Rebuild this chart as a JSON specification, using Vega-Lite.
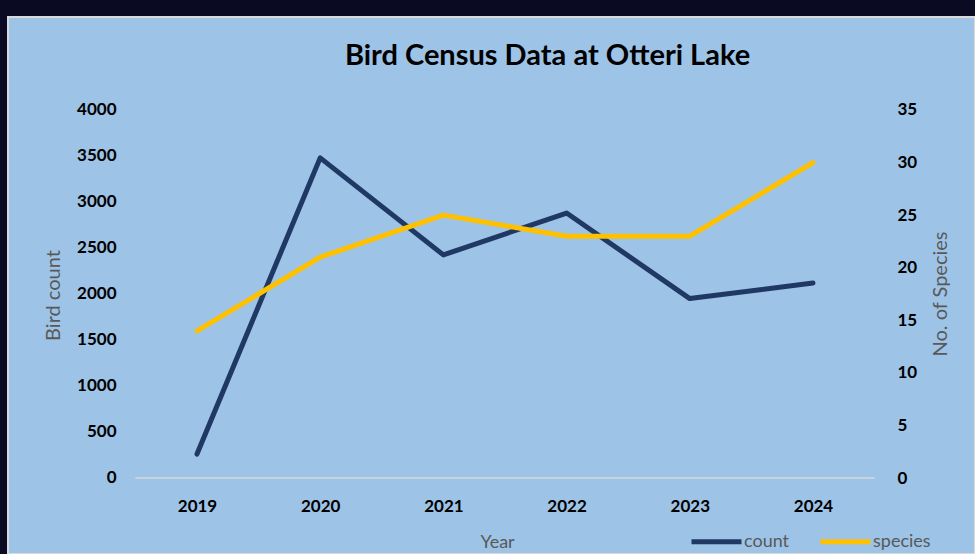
{
  "$schema": "https://vega.github.io/schema/vega-lite/v6.json",
  "width": 967,
  "height": 537,
  "autosize": {"type": "none"},
  "padding": {"left": 8, "top": 17, "right": 0, "bottom": 0},
  "background": "#0a0a22",
  "title": {"text": "Bird Census Data at Otteri Lake", "font": "Lato", "fontSize": 29, "fontWeight": "bold", "color": "#000000", "anchor": "middle", "dx": 56, "offset": -54},
  "data": {"values": [
    {"year": 2019, "count": 260, "species": 14},
    {"year": 2020, "count": 3480, "species": 21},
    {"year": 2021, "count": 2425, "species": 25},
    {"year": 2022, "count": 2880, "species": 23},
    {"year": 2023, "count": 1950, "species": 23},
    {"year": 2024, "count": 2120, "species": 30}
  ]},
  "layer": [
    {
      "data": {"values": [{}]},
      "mark": {"type": "rule", "color": "#d9d9d9", "strokeWidth": 1.5},
      "encoding": {
        "x": {"datum": 2018.5, "type": "quantitative", "scale": {"domain": [2017.466, 2025.315], "nice": false, "zero": false}, "title": "Year"},
        "x2": {"datum": 2024.5},
        "y": {"datum": 0, "type": "quantitative", "scale": {"domain": [-826.09, 5010.87], "nice": false, "zero": false}, "axis": null}
      }
    },
    {
      "mark": {"type": "line", "strokeWidth": 5, "strokeCap": "round", "strokeJoin": "round"},
      "encoding": {
        "x": {"field": "year", "type": "quantitative", "scale": {"domain": [2017.466, 2025.315], "nice": false, "zero": false}, "title": "Year",
          "axis": {"orient": "bottom", "offset": -56, "values": [2019, 2020, 2021, 2022, 2023, 2024], "format": "d", "labelFlush": false, "titleX": 489, "titleY": 44, "titleBaseline": "middle"}},
        "y": {"field": "count", "type": "quantitative", "scale": {"domain": [-826.09, 5010.87], "nice": false, "zero": false}, "title": "Bird count",
          "axis": {"orient": "left", "offset": -108, "values": [0, 500, 1000, 1500, 2000, 2500, 3000, 3500, 4000], "format": "d", "titleAngle": 270, "titleX": -63, "titleY": 278, "titleBaseline": "middle", "titleFontSize": 20}},
        "color": {"datum": "count", "type": "nominal", "scale": {"domain": ["count", "species"], "range": ["#1f3864", "#ffc000"]},
          "legend": {"title": null, "orient": "none", "legendX": 681, "legendY": 497, "direction": "horizontal", "symbolType": "stroke", "symbolSize": 2500, "symbolStrokeWidth": 5, "labelFont": "Lato", "labelFontSize": 18, "labelColor": "#595959", "labelOffset": 0, "columnPadding": 20, "padding": 0}}
      }
    },
    {
      "mark": {"type": "line", "strokeWidth": 5, "strokeCap": "round", "strokeJoin": "round"},
      "encoding": {
        "x": {"field": "year", "type": "quantitative", "scale": {"domain": [2017.466, 2025.315], "nice": false, "zero": false}, "title": "Year"},
        "y": {"field": "species", "type": "quantitative", "scale": {"domain": [-7.228, 43.845], "nice": false, "zero": false}, "title": "No. of Species",
          "axis": {"orient": "right", "offset": -78, "values": [0, 5, 10, 15, 20, 25, 30, 35], "format": "d", "labelAlign": "left", "titleAngle": 270, "titleX": 43, "titleY": 276.5, "titleBaseline": "middle", "titleFontSize": 20}},
        "color": {"datum": "species", "type": "nominal"}
      }
    }
  ],
  "resolve": {"scale": {"y": "independent"}},
  "config": {
    "view": {"fill": "#9dc3e6", "stroke": "#d9d9d9", "strokeWidth": 2},
    "axis": {
      "domain": false, "ticks": false, "tickSize": 0, "grid": false, "labelPadding": 0,
      "labelFont": "Lato", "labelFontSize": 17, "labelFontWeight": "bold", "labelColor": "#000000",
      "titleFont": "Lato", "titleFontSize": 18, "titleFontWeight": "normal", "titleColor": "#595959"
    }
  }
}
